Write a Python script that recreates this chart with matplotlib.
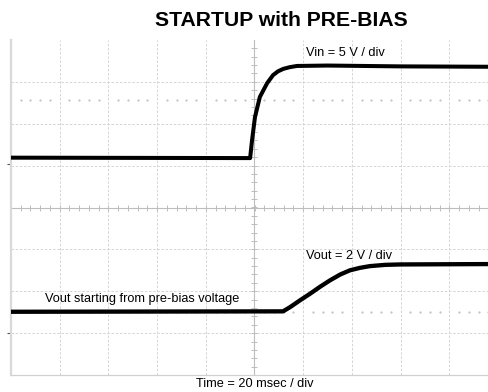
import numpy as np
import matplotlib
matplotlib.use("Agg")
import matplotlib.pyplot as plt

plt.rcParams["font.family"] = ["Liberation Sans", "DejaVu Sans"]

# scope traces, in divisions (x: 20 ms/div, y: offset per channel)
VIN_T = [0.0, 4.91, 4.95, 5.01, 5.11, 5.26, 5.38, 5.48, 5.59, 5.72, 5.87,
         6.5, 8.0, 10.0]
VIN_V = [1.19, 1.18, 1.61, 2.16, 2.64, 2.97, 3.16, 3.25, 3.31, 3.35, 3.38,
         3.39, 3.37, 3.36]

VOUT_T = [0.0, 5.585, 5.73, 5.93, 6.14, 6.35, 6.55, 6.76, 6.96, 7.17,
          7.37, 7.68, 7.99, 10.0]
VOUT_V = [-2.49, -2.48, -2.38, -2.22, -2.06, -1.89, -1.74, -1.60, -1.50,
          -1.44, -1.40, -1.37, -1.36, -1.35]

# trigger / reference levels shown as dotted rows
REF_LEVELS = [2.57, -2.50]

TITLE = "STARTUP with PRE-BIAS"
VIN_LABEL = "Vin = 5 V / div"
VOUT_LABEL = "Vout = 2 V / div"
NOTE = "Vout starting from pre-bias voltage"
TIME_LABEL = "Time = 20 msec / div"

W, H = 489, 392
fig = plt.figure(figsize=(W / 100, H / 100), dpi=100)
ax = fig.add_axes([11 / W, 17 / H, 487 / W, 335 / H])
ax.set_xlim(0, 10)
ax.set_ylim(-4, 4)
ax.set_xticks([])
ax.set_yticks([])
for side in ["top", "right"]:
    ax.spines[side].set_visible(False)
ax.spines["left"].set_color("#d9d9d9")
ax.spines["left"].set_linewidth(1.6)
ax.spines["bottom"].set_color("#d0d0d0")
ax.spines["bottom"].set_linewidth(0.9)

# graticule
grid_kw = dict(color="#cfcfcf", lw=0.6, ls=(0, (3, 2)), zorder=1)
for i in range(1, 10):
    if i != 5:
        ax.axvline(i, **grid_kw)
for j in range(-3, 4):
    if j != 0:
        ax.axhline(j, **grid_kw)

ax.axhline(0, color="#bdbdbd", lw=0.8, zorder=1)
ax.axvline(5, color="#bdbdbd", lw=0.8, zorder=1)
sub_x = np.arange(0.2, 10, 0.2)
sub_y = np.arange(-3.8, 4, 0.2)
ax.plot(sub_x, np.zeros_like(sub_x), ls="none", marker="|", ms=4.5,
        mew=0.7, color="#bdbdbd", zorder=1)
ax.plot(np.full_like(sub_y, 5.0), sub_y, ls="none", marker="_", ms=4.5,
        mew=0.7, color="#bdbdbd", zorder=1)

for lvl in REF_LEVELS:
    dots = [x for x in sub_x if abs(x - round(x)) > 0.05]
    ax.plot(dots, [lvl] * len(dots), ls="none", marker="s", ms=0.6,
            color="#c4c4c4", zorder=1)

# channel ground markers
ax.plot([-0.04, -0.04], [1.05, -3.0], ls="none", marker="_", ms=2.5,
        mew=0.8, color="#555555", clip_on=False)

# traces
ax.plot(VIN_T, VIN_V, color="black", lw=2.9, solid_joinstyle="round", zorder=3)
ax.plot(VOUT_T, VOUT_V, color="black", lw=3.1, solid_joinstyle="round", zorder=3)

fig.text(281 / W, 1 - 20 / H, TITLE, ha="center", va="center",
         fontsize=15.2, fontweight="bold")
fig.text(306 / W, 1 - 53 / H, VIN_LABEL, ha="left", va="center", fontsize=9.2)
fig.text(306 / W, 1 - 256 / H, VOUT_LABEL, ha="left", va="center", fontsize=9.2)
fig.text(45 / W, 1 - 299 / H, NOTE, ha="left", va="center", fontsize=9.2)
fig.text(255 / W, 1 - 384 / H, TIME_LABEL, ha="center", va="center", fontsize=9.2)

fig.savefig("out.png", dpi=100)
